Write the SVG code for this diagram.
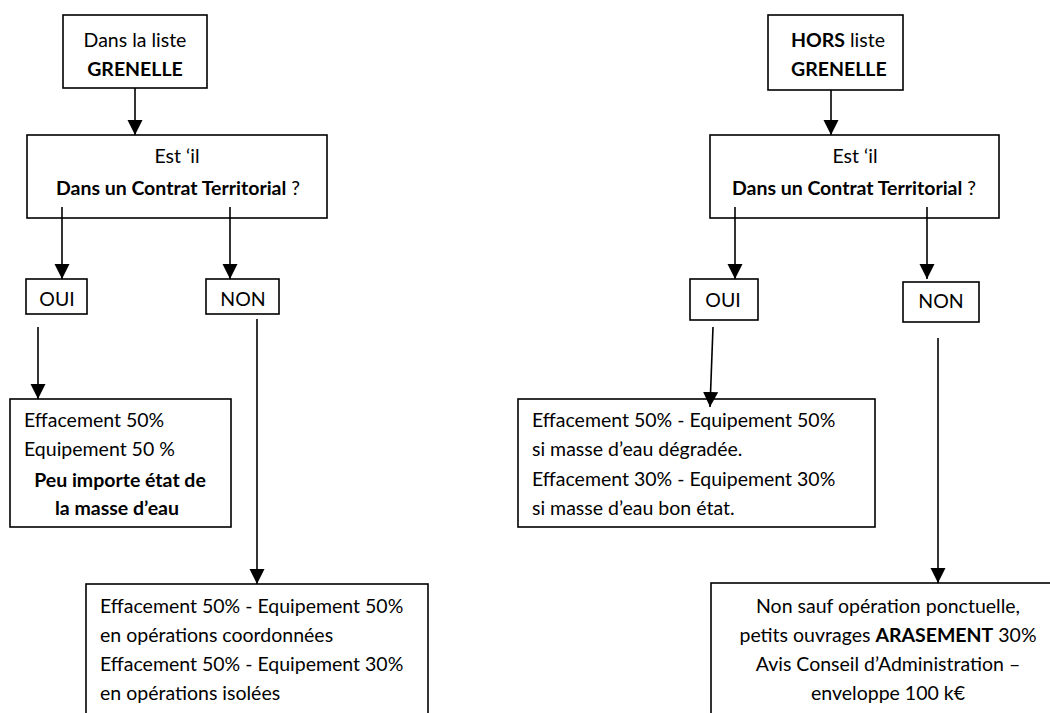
<svg xmlns="http://www.w3.org/2000/svg" width="1050" height="713" viewBox="0 0 1050 713">
<style>
.box{fill:#fff;stroke:#000;stroke-width:1.6}
.t{font-family:Lato,"Open Sans","Liberation Sans",sans-serif;font-size:19.5px;fill:#000}
.c{text-anchor:middle}
.b{font-weight:bold}
.con line{stroke:#000;stroke-width:1.6;marker-end:url(#ah)}
</style>
<defs>
<marker id="ah" markerUnits="userSpaceOnUse" markerWidth="15" markerHeight="16" refX="15" refY="7.5" orient="auto">
<path d="M0,0 L15,7.5 L0,15 z" fill="#000"/>
</marker>
</defs>
<rect width="1050" height="713" fill="#fff"/>

<g id="l-top"><rect class="box" x="63" y="15" width="144" height="73"/>
<text class="t c" x="135" y="47">Dans la liste</text>
<text class="t c b" x="135" y="76">GRENELLE</text></g>

<g id="l-q"><rect class="box" x="27" y="135" width="300" height="83"/>
<text class="t c" x="177" y="163">Est ‘il</text>
<text class="t c" x="178" y="195"><tspan class="b">Dans un Contrat Territorial</tspan> ?</text></g>

<g id="l-oui"><rect class="box" x="26" y="279" width="61" height="35"/>
<text class="t c" x="57" y="306">OUI</text></g>

<g id="l-non"><rect class="box" x="206" y="279" width="73" height="35"/>
<text class="t c" x="243" y="306">NON</text></g>

<g id="l-oui-res"><rect class="box" x="10" y="399" width="221" height="128"/>
<text class="t" x="24" y="427">Effacement 50%</text>
<text class="t" x="24" y="456">Equipement 50 %</text>
<text class="t c b" x="120" y="487">Peu importe état de</text>
<text class="t c b" x="117" y="515">la masse d’eau</text></g>

<g id="l-non-res"><rect class="box" x="86" y="584" width="342" height="140"/>
<text class="t" x="100" y="613">Effacement 50% - Equipement 50%</text>
<text class="t" x="100" y="642">en opérations coordonnées</text>
<text class="t" x="100" y="671">Effacement 50% - Equipement 30%</text>
<text class="t" x="100" y="700">en opérations isolées</text></g>

<g id="r-top"><rect class="box" x="768" y="15" width="135" height="75"/>
<text class="t" x="791" y="47"><tspan class="b">HORS</tspan> liste</text>
<text class="t b" x="791" y="76">GRENELLE</text></g>

<g id="r-q"><rect class="box" x="710" y="135" width="289" height="83"/>
<text class="t c" x="855" y="163">Est ‘il</text>
<text class="t c" x="854" y="195"><tspan class="b">Dans un Contrat Territorial</tspan> ?</text></g>

<g id="r-oui"><rect class="box" x="690" y="279" width="68" height="41"/>
<text class="t c" x="723" y="307">OUI</text></g>

<g id="r-non"><rect class="box" x="903" y="282" width="76" height="40"/>
<text class="t c" x="941" y="308">NON</text></g>

<g id="r-oui-res"><rect class="box" x="518" y="399" width="357" height="128"/>
<text class="t" x="532" y="427">Effacement 50% - Equipement 50%</text>
<text class="t" x="532" y="456">si masse d’eau dégradée.</text>
<text class="t" x="532" y="486">Effacement 30% - Equipement 30%</text>
<text class="t" x="532" y="515">si masse d’eau bon état.</text></g>

<g id="r-non-res"><rect class="box" x="711" y="583" width="360" height="140"/>
<text class="t c" x="888" y="613">Non sauf opération ponctuelle,</text>
<text class="t c" x="888" y="642">petits ouvrages <tspan class="b">ARASEMENT</tspan> 30%</text>
<text class="t c" x="888" y="671">Avis Conseil d’Administration –</text>
<text class="t c" x="888" y="700">enveloppe 100 k€</text></g>

<g id="connectors" class="con">
<line x1="135" y1="88" x2="135" y2="135"/>
<line x1="62" y1="207" x2="62" y2="279"/>
<line x1="230" y1="207" x2="230" y2="279"/>
<line x1="38" y1="327" x2="38" y2="399"/>
<line x1="257" y1="319" x2="257" y2="584"/>
<line x1="831" y1="90" x2="831" y2="135"/>
<line x1="735" y1="207" x2="735" y2="279"/>
<line x1="927" y1="207" x2="927" y2="279"/>
<line x1="713" y1="327" x2="710" y2="407"/>
<line x1="938" y1="338" x2="938" y2="583"/>
</g>
</svg>
